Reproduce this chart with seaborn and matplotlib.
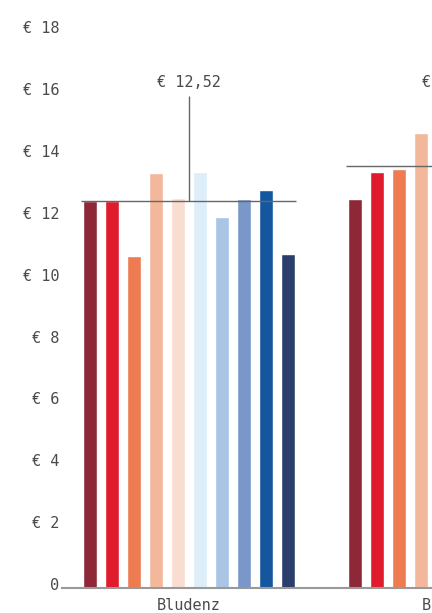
import matplotlib
matplotlib.use("Agg")
import matplotlib.pyplot as plt
import matplotlib.transforms as mtransforms
import seaborn as sns
import pandas as pd

# ---- data ----
regions = ["Bludenz", "Bregenz"]
chains = ["K1", "K2", "K3", "K4", "K5", "K6", "K7", "K8", "K9", "K10"]
bludenz_values = [12.50, 12.50, 10.74, 13.42, 12.61, 13.45, 12.00, 12.57, 12.86, 10.79]
bregenz_values = [12.58, 13.46, 13.54, 14.72]
region_averages = [12.52, 13.64]
y_ticks = [0, 2, 4, 6, 8, 10, 12, 14, 16, 18]
y_tick_labels = ["0"] + [f"€ {v}" for v in y_ticks[1:]]
colors = ["#8e2838", "#e01b2b", "#ee7b51", "#f3b89c", "#f9ddd1",
          "#ddeefa", "#a9c4e4", "#7997c9", "#14579f", "#2b3d6b"]

rows = []
for c, v in zip(chains, bludenz_values):
    rows.append({"region": "Bludenz", "chain": c, "price": v})
for c, v in zip(chains, bregenz_values):
    rows.append({"region": "Bregenz", "chain": c, "price": v})
df = pd.DataFrame(rows)

sns.set_theme(style="white")
plt.rcParams["font.family"] = ["DejaVu Sans Mono", "DejaVu Sans"]
text_color = "#4a4a4a"

fig = plt.figure(figsize=(4.32, 6.13), dpi=100)
# axes extend past the right edge of the figure (chart is cropped there)
ax = fig.add_axes([62 / 432, 25 / 613, 438 / 432, 556.7 / 613])

sns.barplot(data=df, x="region", y="price", hue="chain", order=regions,
            hue_order=chains, palette=colors, saturation=1, width=0.83,
            gap=0.38, errorbar=None, legend=False, ax=ax)

half = 0.405
for i, avg in enumerate(region_averages):
    ax.hlines(avg, i - half, i + half, color="#666666", lw=1, zorder=3)
    ax.vlines(i, avg, 15.9, color="#666666", lw=1, zorder=3)
    ax.text(i, 16.34, "€ " + f"{avg:.2f}".replace(".", ","), ha="center",
            va="center", fontsize=11, color=text_color)

ax.set_xlim(-0.4785, -0.4785 + 438 / 265)
ax.set_ylim(0, 18)
ax.set_yticks(y_ticks)
ax.set_yticklabels(y_tick_labels)
ax.set_xlabel("")
ax.set_ylabel("")
ax.tick_params(axis="both", length=0, labelsize=11, colors=text_color)
ax.tick_params(axis="y", pad=2)
ax.tick_params(axis="x", pad=7)
for side in ["top", "right", "left"]:
    ax.spines[side].set_visible(False)
ax.spines["bottom"].set_color("#999999")
ax.spines["bottom"].set_linewidth(1.5)

offset = mtransforms.ScaledTranslation(0, 4 / 100, fig.dpi_scale_trans)
for lab in ax.get_yticklabels():
    lab.set_transform(lab.get_transform() + offset)

fig.savefig("out.png", dpi=100)
